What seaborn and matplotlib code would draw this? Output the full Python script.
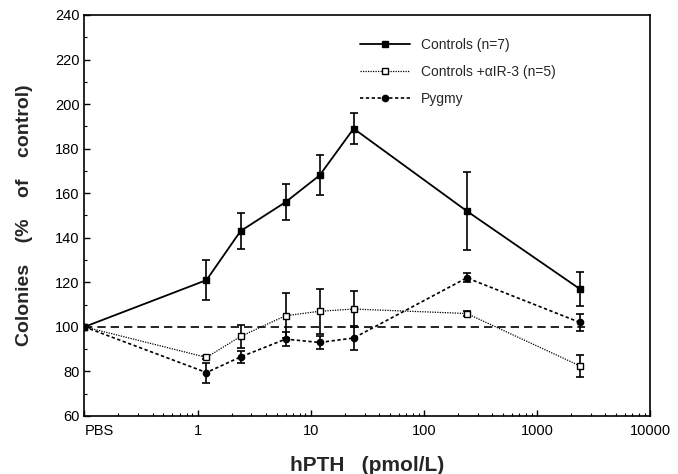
import matplotlib
matplotlib.use("Agg")
import matplotlib.pyplot as plt
import matplotlib.ticker as mticker
import numpy as np
import pandas as pd
import seaborn as sns

# ---- data ----
doses = [1.2, 2.4, 6, 12, 24, 240, 2400]          # hPTH pmol/L (PBS first, separately)
controls = [100, 121, 143, 156, 168, 189, 152, 117]
controls_err = [0, 9, 8, 8, 9, 7, 17.5, 7.5]
anti = [100, 86.3, 95.7, 105, 107, 108, 106, 82.5]
anti_err = [0, 0.8, 5, 10, 10, 8, 1, 5]
pygmy = [100, 79.5, 86.5, 94.5, 93, 95, 122, 102]
pygmy_err = [0, 4.5, 2.5, 3, 3, 5.5, 2, 4]
labels = ["Controls (n=7)", "Controls +\u03b1IR-3 (n=5)", "Pygmy"]
xtick_vals = [1, 10, 100, 1000, 10000]
xtick_labels = ["1", "10", "100", "1000", "10000"]

# PBS is placed at the left edge of the log axis
pbs_pos = 0.1
xs = [pbs_pos] + doses

sns.set_style("ticks")
plt.rcParams["font.family"] = ["Liberation Sans", "DejaVu Sans"]

fig = plt.figure(figsize=(6.78, 4.74), dpi=100)
ax = fig.add_axes([0.1245, 0.1224, 0.8342, 0.846])

series = [
    (controls, controls_err, dict(marker="s", linestyle="-", lw=1.3, mfc="black", ms=5)),
    (anti, anti_err, dict(marker="s", linestyle=(0, (1, 1)), lw=0.9, mfc="white", ms=5)),
    (pygmy, pygmy_err, dict(marker="o", linestyle=(0, (2, 1.5)), lw=1.2, mfc="black", ms=4.5)),
]

for (vals, errs, st), lab in zip(series, labels):
    df = pd.DataFrame({"x": xs, "y": vals})
    sns.lineplot(data=df, x="x", y="y", ax=ax, color="black",
                 marker=st["marker"], linestyle=st["linestyle"], lw=st["lw"],
                 markerfacecolor=st["mfc"], markeredgecolor="black",
                 markersize=st["ms"], markeredgewidth=1.0, label=lab, zorder=3)
    ax.errorbar(xs[1:], vals[1:], yerr=errs[1:], fmt="none", ecolor="black",
                elinewidth=1.2, capsize=3, capthick=1.2, zorder=2)

# dashed reference line at 100 %
ax.hlines(100, pbs_pos, doses[-1] * 1.12, colors="black", linestyles=(0, (5, 3)),
          lw=1.2, zorder=1)

ax.set_xscale("log")
ax.set_xlim(pbs_pos, 10000)
ax.set_ylim(60, 240)
ax.set_xticks([pbs_pos] + xtick_vals)
ax.set_xticklabels(["PBS"] + xtick_labels)
ax.get_xticklabels()[0].set_horizontalalignment("left")
ax.xaxis.set_minor_locator(mticker.LogLocator(base=10, subs=np.arange(2, 10)))
ax.xaxis.set_minor_formatter(mticker.NullFormatter())
ax.yaxis.set_major_locator(mticker.MultipleLocator(20))
ax.yaxis.set_minor_locator(mticker.MultipleLocator(10))
ax.tick_params(which="both", direction="in", labelsize=10.5, colors="black")
ax.tick_params(which="major", length=4, width=1)
ax.tick_params(which="minor", length=2.5, width=0.8)
ax.tick_params(axis="x", which="major", pad=6)
for s in ax.spines.values():
    s.set_visible(True)
    s.set_linewidth(1.2)
    s.set_color("black")

ax.set_xlabel("hPTH   (pmol/L)", fontsize=15, fontweight="bold", labelpad=13)
ax.set_ylabel("Colonies    (%    of    control)", fontsize=14, fontweight="bold",
              labelpad=16)

leg = ax.legend(loc="upper left", bbox_to_anchor=(0.465, 0.975), frameon=False,
                fontsize=10, handlelength=3.6, handletextpad=0.8, labelspacing=0.95)

fig.savefig("out.png", dpi=100)
